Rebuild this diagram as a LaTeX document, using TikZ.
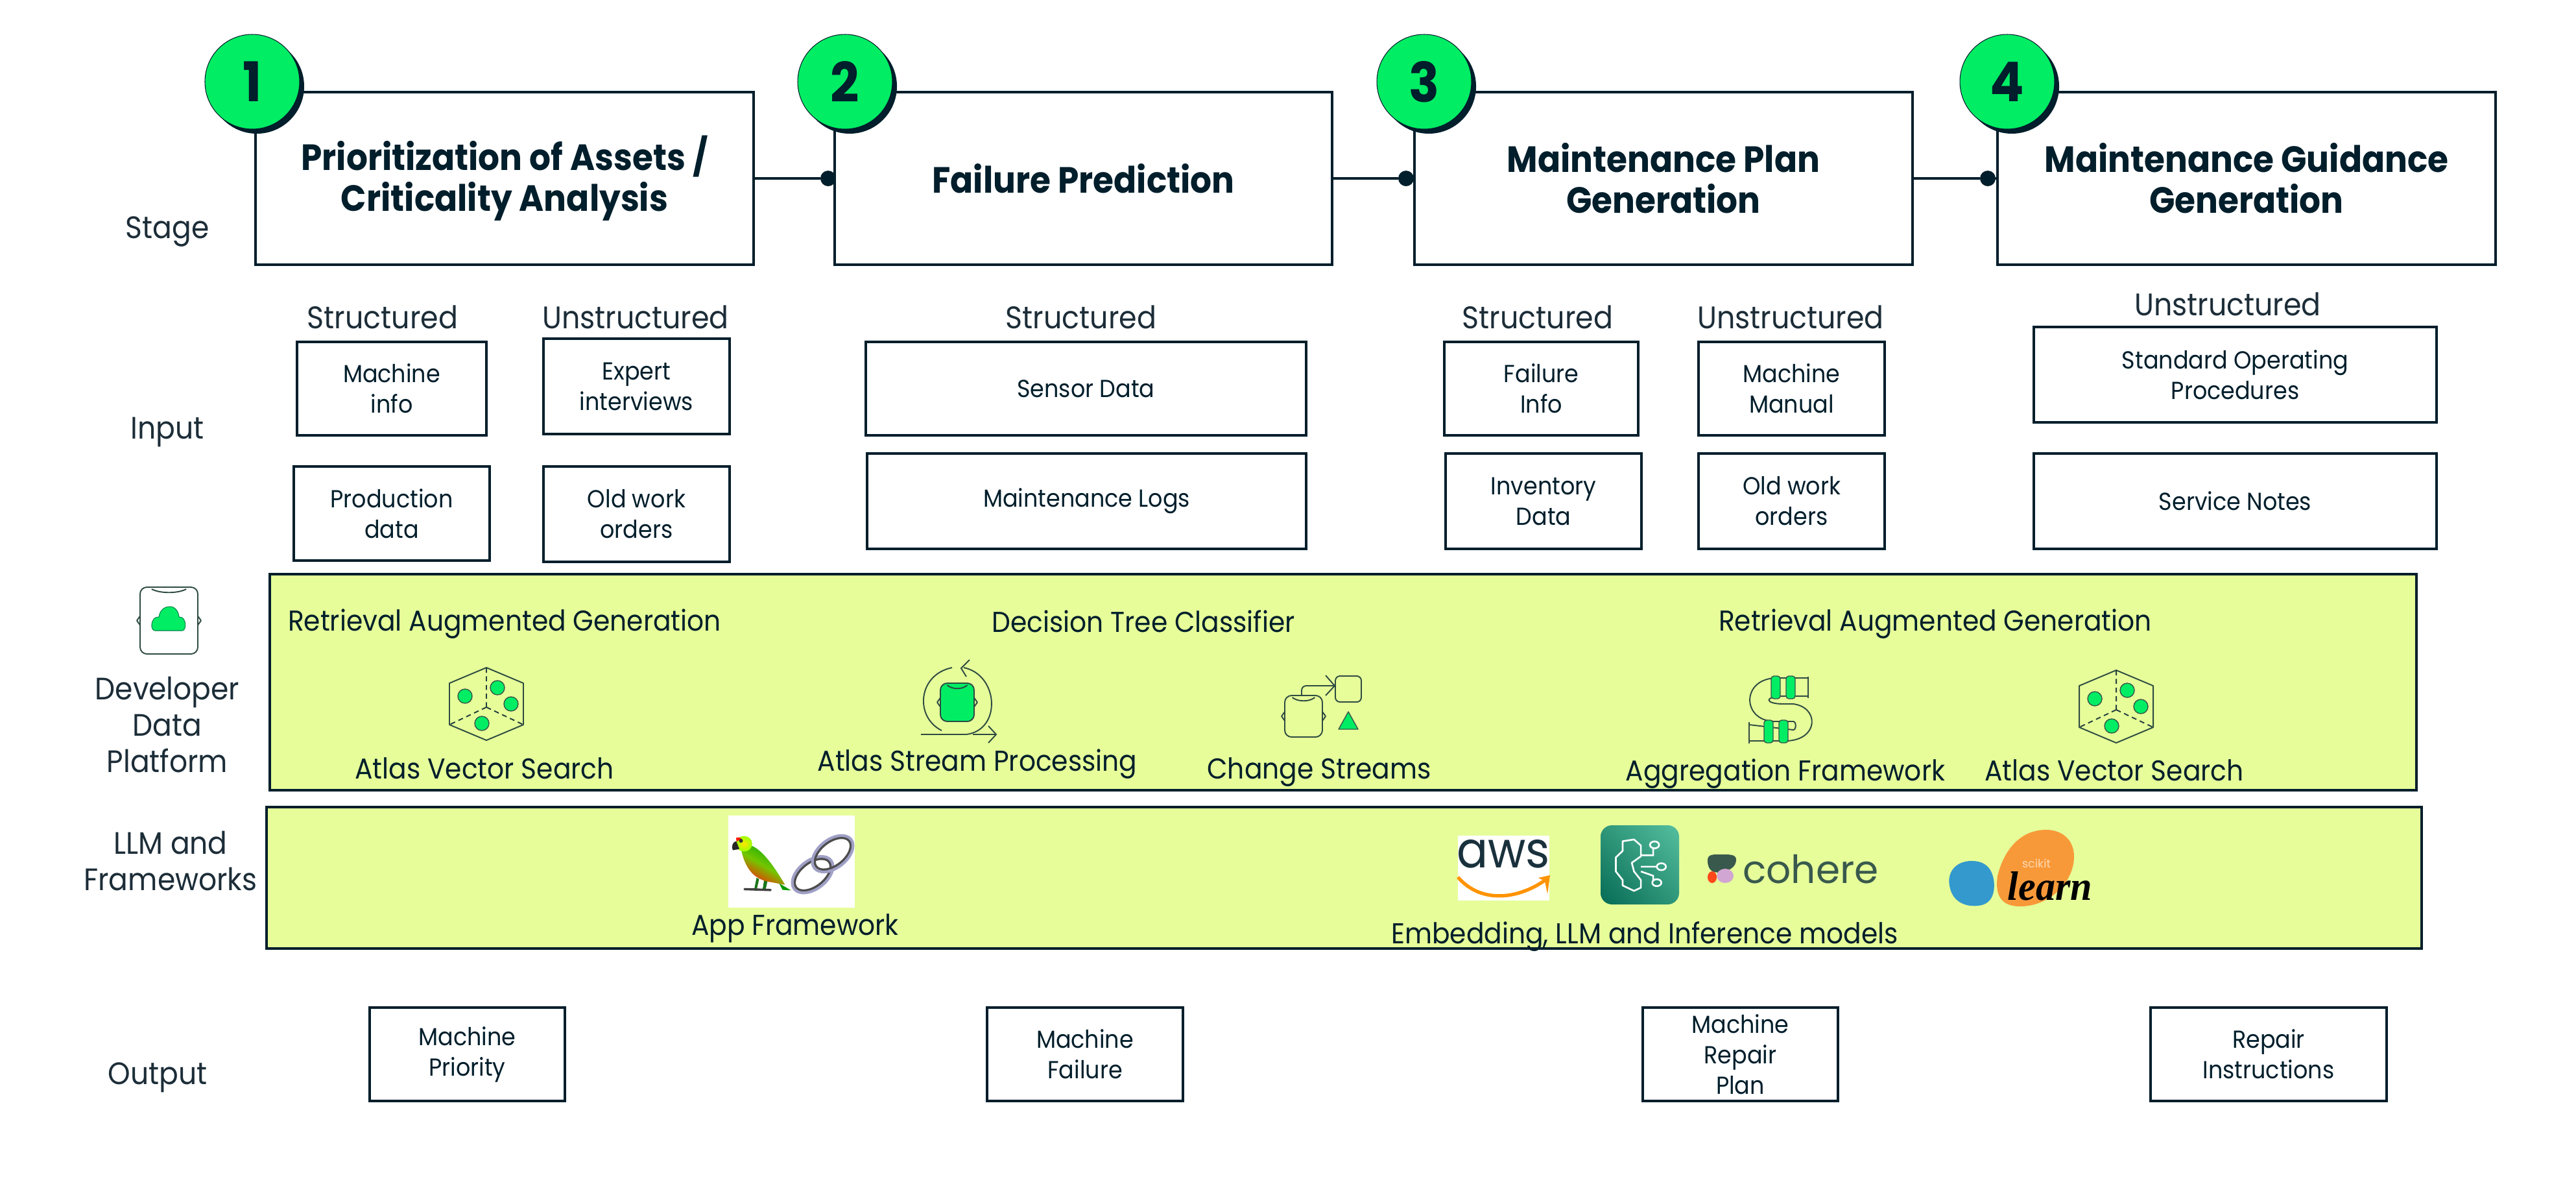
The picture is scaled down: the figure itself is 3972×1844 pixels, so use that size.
\documentclass[tikz,border=0pt]{standalone}
\usepackage{fontspec}
\setmainfont{Poppins}[FakeStretch=0.92]
\newfontfamily\logofont{Poppins}
\newfontfamily\learnfont{Liberation Serif}[FakeStretch=0.95]
\usetikzlibrary{arrows.meta,shadings}
\definecolor{ink}{HTML}{001E2B}
\definecolor{leaf}{HTML}{00ED64}
\definecolor{band}{HTML}{E6FD9A}
\definecolor{labelgrey}{HTML}{1C2D38}
\definecolor{tileA}{HTML}{056B55}
\definecolor{tileB}{HTML}{2F9679}
\definecolor{tileC}{HTML}{55BF9F}
\definecolor{cohgreen}{HTML}{39594D}
\definecolor{skblue}{HTML}{3499CD}
\definecolor{skorange}{HTML}{F89939}
\tikzset{
  stagebox/.style={draw=ink,line width=1.1pt,fill=white,align=center,inner sep=0pt,outer sep=0pt,text=ink,font=\fontsize{16}{18}\selectfont\bfseries},
  smallbox/.style={draw=ink,line width=1.05pt,fill=white,align=center,inner sep=0pt,outer sep=0pt,text=ink,font=\fontsize{10.8}{13.4}\selectfont},
  bandbox/.style={draw=ink,line width=1.05pt,fill=band,inner sep=0pt,outer sep=0pt},
  rowlabel/.style={align=center,inner sep=0pt,text=labelgrey,font=\fontsize{13.6}{15.9}\selectfont},
  headlabel/.style={inner sep=0pt,text=labelgrey,font=\fontsize{13.7}{15}\selectfont},
  bandtext/.style={inner sep=0pt,text=ink,font=\fontsize{12.6}{15}\selectfont},
  numcircle/.style={circle,fill=leaf,draw=ink,line width=.3pt,minimum size=146*0.01cm,inner sep=0pt,outer sep=0pt,text=ink,font=\fontsize{24}{24}\selectfont\bfseries},
  shadowdisc/.style={circle,fill=ink,minimum size=146*0.01cm,inner sep=0pt,outer sep=0pt},
  jointdot/.style={circle,fill=ink,minimum size=24*0.01cm,inner sep=0pt,outer sep=0pt},
  linkline/.style={draw=ink,line width=1.1pt},
  iconline/.style={draw=ink!80!band,line width=.55pt},
  icondash/.style={draw=ink!85!band,line width=.55pt,dash pattern=on 2.2pt off 1.6pt},
  icongreen/.style={fill=leaf,draw=ink!75!band,line width=.4pt},
}
\newcommand{\bx}[7][smallbox]{\node[#1,minimum width={(#5-#3)*0.01cm},minimum height={(#6-#4)*0.01cm}] (#2) at ({(#3+#5)/2},{(#4+#6)/2}) {#7};}
\newcommand{\hexicon}[2]{%
  \begin{scope}[shift={(#1,#2)}]
    \draw[iconline,line join=round] (0,-56)--(57,-32)--(57,32)--(0,56)--(-57,32)--(-57,-32)--cycle;
    \draw[icondash] (0,-56)--(0,5) (0,5)--(-57,32) (0,5)--(57,32);
    \foreach \a/\b in {-33/-12,17/-25,38/0,-7/30} \draw[icongreen] (\a,\b) ellipse (11 and 11);
  \end{scope}}
\newcommand{\dbicon}[5][none]{% fill, x1,y1,x2,y2
  \draw[iconline,fill=#1,rounded corners=3pt] (#2,#3) rectangle (#4,#5);
  \draw[iconline] ({#2-5},{(#3+#5)/2})--(#2,{(#3+#5)/2-7}) ({#2-5},{(#3+#5)/2})--(#2,{(#3+#5)/2+7});
  \draw[iconline] ({#4+5},{(#3+#5)/2})--(#4,{(#3+#5)/2-7}) ({#4+5},{(#3+#5)/2})--(#4,{(#3+#5)/2+7});
  \draw[iconline] ({#2+(#4-#2)*.2},{#3+3}) .. controls ({#2+(#4-#2)*.35},{#3+10}) and ({#2+(#4-#2)*.65},{#3+10}) .. ({#2+(#4-#2)*.8},{#3+3});
}
\begin{document}
\begin{tikzpicture}[x=0.01cm,y=-0.01cm]
\useasboundingbox (0,0) rectangle (3972,1844);
% stage boxes
\bx[stagebox]{s1}{394}{142}{1162}{408}{Prioritization of Assets /\\Criticality Analysis}
\bx[stagebox]{s2}{1287}{142}{2054}{408}{Failure Prediction}
\bx[stagebox]{s3}{2181}{142}{2949}{408}{Maintenance Plan\\Generation}
\bx[stagebox]{s4}{3080}{142}{3848}{408}{Maintenance Guidance\\Generation}
% joints
\node[jointdot] (d2) at (1277,275) {};
\node[jointdot] (d3) at (2168,275) {};
\node[jointdot] (d4) at (3065,275) {};
\draw[linkline] (s1.east |- d2) -- (d2);
\draw[linkline] (s2.east |- d3) -- (d3);
\draw[linkline] (s3.east |- d4) -- (d4);
\draw[linkline] (d2) -- (s2.west |- d2);
\draw[linkline] (d3) -- (s3.west |- d3);
\draw[linkline] (d4) -- (s4.west |- d4);
% number circles
\foreach \i/\cx in {1/389,2/1303,3/2196,4/3095}{
  \node[shadowdisc] (sh\i) at (\cx+7,133) {};
  \node[numcircle] (n\i) at (\cx,126) {\i};
}
% row labels
\node[rowlabel] (lstage) at (258,357) {Stage};
\node[rowlabel] (linput) at (258,666) {Input};
\node[rowlabel] (lddp) at (258,1117) {Developer\\Data\\Platform};
\node[rowlabel] (lllm) at (263,1327) {LLM and\\Frameworks};
\node[rowlabel] (loutput) at (243,1661) {Output};
% column heads
\node[headlabel] (h1) at (590,489) {Structured};
\node[headlabel] (h2) at (980,489) {Unstructured};
\node[headlabel] (h3) at (1667,489) {Structured};
\node[headlabel] (h4) at (2371,489) {Structured};
\node[headlabel] (h5) at (2761,489) {Unstructured};
\node[headlabel] (h6) at (3435,469) {Unstructured};
% inputs
\bx{i1}{458}{527}{750}{671}{Machine\\info}
\bx{i2}{453}{719}{755}{864}{Production\\data}
\bx{i3}{838}{522}{1125}{669}{Expert\\interviews}
\bx{i4}{838}{719}{1125}{866}{Old work\\orders}
\bx{i5}{1335}{527}{2014}{671}{Sensor Data}
\bx{i6}{1337}{699}{2014}{846}{Maintenance Logs}
\bx{i7}{2227}{527}{2526}{671}{Failure\\Info}
\bx{i8}{2229}{699}{2531}{846}{Inventory\\Data}
\bx{i9}{2619}{527}{2906}{671}{Machine\\Manual}
\bx{i10}{2619}{699}{2906}{846}{Old work\\orders}
\bx{i11}{3136}{504}{3757}{651}{Standard Operating\\Procedures}
\bx{i12}{3136}{699}{3757}{846}{Service Notes}
% bands
\bx[bandbox]{ddp}{416}{885}{3726}{1218}{}
\bx[bandbox]{llm}{411}{1244}{3734}{1462}{}
\node[bandtext] (t1) at (778,962) {Retrieval Augmented Generation};
\node[bandtext] (t2) at (1763,958) {Decision Tree Classifier};
\node[bandtext] (t3) at (2984,962) {Retrieval Augmented Generation};
\node[bandtext] (t4) at (747,1184) {Atlas Vector Search};
\node[bandtext] (t5) at (1507,1178) {Atlas Stream Processing};
\node[bandtext] (t6) at (2034,1190) {Change Streams};
\node[bandtext] (t7) at (2753,1193) {Aggregation Framework};
\node[bandtext] (t8) at (3260,1187) {Atlas Vector Search};
\node[bandtext] (t9) at (1226,1431) {App Framework};
\node[bandtext] (t10) at (2536,1444) {Embedding, LLM and Inference models};
% outputs
\bx{o1}{570}{1553}{871}{1697}{Machine\\Priority}
\bx{o2}{1522}{1553}{1824}{1697}{Machine\\Failure}
\bx{o3}{2533}{1553}{2834}{1697}{Machine\\Repair\\Plan}
\bx{o4}{3316}{1553}{3680}{1697}{Repair\\Instructions}
% developer data platform icon
\dbicon[white]{216}{905}{305}{1008}
\fill[leaf,draw=ink!50!leaf,line width=.3pt] (239,972) .. controls (231,972) and (232,950) .. (245,951) .. controls (247,938) and (256,935) .. (262,935) .. controls (270,935) and (275,942) .. (276,951) .. controls (288,950) and (288,972) .. (281,972) -- cycle;
% icons in band
\hexicon{750}{1085}
\hexicon{3263}{1089}
% stream processing
\dbicon[leaf]{1450}{1053}{1502}{1112}
\draw[iconline] (1468,1029) .. controls (1415,1040) and (1410,1105) .. (1452,1126);
\draw[iconline] (1486,1029) .. controls (1540,1040) and (1545,1125) .. (1490,1132) -- (1420,1132);
\draw[iconline] (1500,1132) -- (1536,1132);
\draw[iconline] (1495,1017) -- (1482,1030) -- (1490,1043);
\draw[iconline] (1524,1119) -- (1536,1132) -- (1524,1145);
% change streams
\dbicon{1981}{1072}{2039}{1136}
\draw[iconline,rounded corners=2pt] (2007,1072) -- (2007,1057) -- (2058,1057);
\draw[iconline] (2044,1041) -- (2058,1057) -- (2044,1072);
\draw[iconline,rounded corners=2pt] (2059,1042) rectangle (2099,1082);
\draw[icongreen,line join=round] (2064,1124) -- (2079,1097) -- (2094,1124) -- cycle;
% aggregation
\draw[iconline] (2788,1045) -- (2740,1045) .. controls (2685,1045) and (2685,1110) .. (2735,1112) -- (2765,1112) .. controls (2770,1112) and (2770,1125) .. (2765,1125) -- (2697,1117);
\draw[iconline] (2788,1073) -- (2750,1073) .. controls (2720,1073) and (2720,1085) .. (2750,1085) -- (2765,1085) .. controls (2805,1090) and (2805,1140) .. (2755,1142) -- (2697,1142);
\draw[iconline] (2788,1043) -- (2788,1076) (2697,1113) -- (2697,1146);
\foreach \xa/\ya/\xb/\yb in {2731/1042/2745/1077,2754/1042/2768/1077,2720/1110/2734/1145,2743/1110/2757/1145}
  \draw[icongreen,rounded corners=1.2pt] (\xa,\ya) rectangle (\xb,\yb);
% langchain emoji panel
\fill[white] (1123,1257) rectangle (1318,1399);
\begin{scope}[shift={(1050,1240)},x=0.00333cm,y=-0.00333cm]
  \fill[green!45!black!80!gray] (350,340) -- (340,390) -- (352,390) -- (362,345) -- cycle;
  \fill[green!45!black!80!gray] (385,350) -- (378,395) -- (392,395) -- (402,350) -- cycle;
  \draw[gray!50!black,line width=1pt,line cap=round] (295,392) -- (415,396);
  \shade[left color=green!65!black!95!yellow,right color=red!75!orange,middle color=green!55!orange,shading angle=-30] (280,215) .. controls (300,300) and (340,350) .. (420,360) -- (482,372) .. controls (440,300) and (380,210) .. (325,190) -- cycle;
  \fill[green!60!black] (455,365) -- (510,398) -- (470,395) -- cycle;
  \shade[inner color=yellow!80!orange,outer color=yellow!60!green] (292,182) ellipse (38 and 36);
  \fill[red!80!orange] (255,155) .. controls (265,150) and (275,152) .. (280,158) -- (258,172) -- cycle;
  \fill[black!80] (278,168) circle (9);
  \fill[gray!30!black] (256,170) .. controls (240,172) and (232,195) .. (240,212) .. controls (250,208) and (265,210) .. (270,205) -- cycle;
  \begin{scope}[shift={(610,325)},rotate=38]
    \draw[gray!60!black,line width=1.6pt] (0,0) ellipse (100 and 58);
    \draw[blue!25!gray!60,line width=1.2pt] (0,0) ellipse (108 and 66);
  \end{scope}
  \begin{scope}[shift={(703,228)},rotate=38]
    \draw[gray!60!black,line width=1.6pt] (0,0) ellipse (100 and 58);
    \draw[blue!25!gray!60,line width=1.2pt] (0,0) ellipse (108 and 66);
  \end{scope}
\end{scope}
% aws
\fill[white] (2248,1288) rectangle (2389,1388);
\node[inner sep=0pt,text=ink!80!gray] (aws) at (2318,1316) {\fontsize{22}{22}\selectfont aws};
\draw[orange!85!yellow,line width=1.5pt] (2248,1352) .. controls (2285,1395) and (2345,1385) .. (2386,1354);
\fill[orange!85!yellow] (2372,1353) -- (2390,1349) -- (2386,1378) -- (2382,1358) -- cycle;
% bedrock tile
\shade[lower left=tileA,upper right=tileC,upper left=tileB,lower right=tileB,rounded corners=5pt] (2468,1272) rectangle (2589,1394);
\begin{scope}[shift={(2200,1240)},x=0.00702cm,y=-0.00333cm]
  \draw[white,line width=.75pt,line join=round] (455,162) -- (430,170) -- (430,215) -- (415,245) -- (415,310) -- (430,350) -- (430,375) -- (455,400) -- (470,385) -- (470,350) -- (455,310) -- (450,270) -- (470,240) -- (470,190) -- cycle;
  \draw[white,line width=.75pt] (470,235) -- (497,235) -- (497,200) (470,288) -- (505,288) (470,310) -- (497,330) -- (497,350);
  \draw[white,line width=.75pt] (500,187) ellipse (10 and 16) (515,288) ellipse (10 and 16) (505,362) ellipse (10 and 16);
\end{scope}
% cohere
\fill[cohgreen] (2633,1328) .. controls (2632,1317) and (2640,1317) .. (2650,1317) .. controls (2665,1317) and (2677,1316) .. (2677,1325) .. controls (2677,1337) and (2665,1342) .. (2657,1344) .. controls (2645,1346) and (2634,1345) .. (2633,1328) -- cycle;
\fill[red!60!orange!90] (2640,1352) ellipse (7 and 9);
\fill[violet!35!white] (2660,1350) ellipse (13 and 11);
\node[inner sep=0pt,text=cohgreen] (coh) at (2792,1340) {\logofont\fontsize{17}{17}\selectfont cohere};
% scikit-learn
\fill[skblue] (3040,1327) .. controls (3015,1327) and (3002,1345) .. (3006,1365) .. controls (3010,1390) and (3030,1398) .. (3050,1396) .. controls (3072,1394) and (3077,1375) .. (3074,1355) .. controls (3070,1335) and (3058,1327) .. (3040,1327) -- cycle;
\fill[skorange] (3155,1279) .. controls (3115,1279) and (3090,1310) .. (3080,1350) .. controls (3075,1385) and (3090,1397) .. (3115,1397) .. controls (3160,1397) and (3198,1360) .. (3198,1320) .. controls (3198,1295) and (3180,1279) .. (3155,1279) -- cycle;
\node[inner sep=0pt,text=white!70!orange] (sk) at (3140,1331) {\logofont\fontsize{5}{5}\selectfont scikit};
\node[inner sep=0pt,text=black] (lrn) at (3161,1366) {\learnfont\itshape\bfseries\fontsize{18}{18}\selectfont learn};
\end{tikzpicture}
\end{document}
